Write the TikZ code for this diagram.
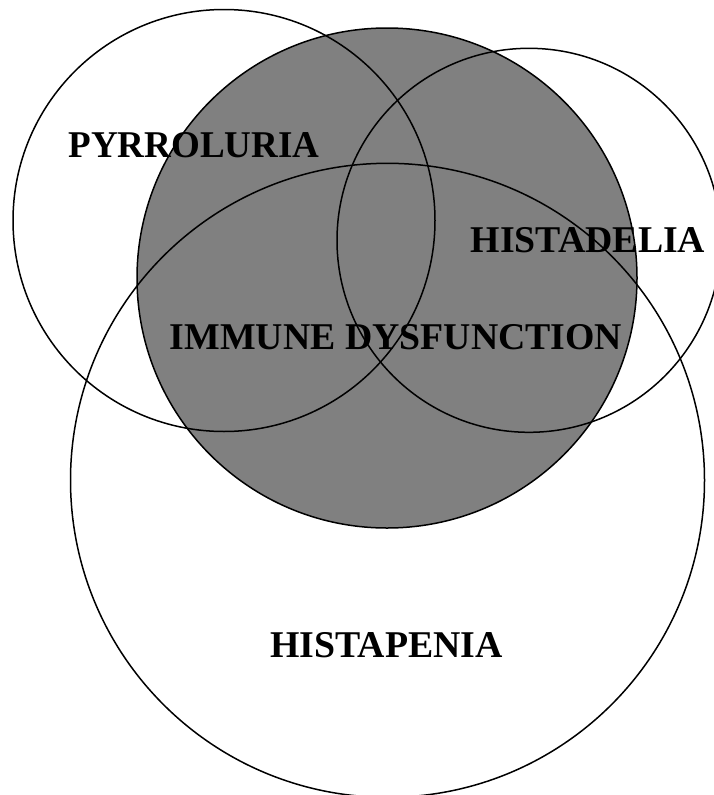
\documentclass[tikz,border=0pt]{standalone}
\usepackage{fontspec}
\setmainfont{Liberation Serif}
\begin{document}
\begin{tikzpicture}[x=1pt,y=-1pt,line width=1.5pt,
  setname/.style={font=\fontsize{37.8}{40}\selectfont\bfseries,inner sep=0pt,anchor=base}]
\useasboundingbox (0,0) rectangle (714,795);
\clip (0,0) rectangle (714,795);

% Centres of the four circles
\coordinate (P) at (224,220.5);
\coordinate (I) at (387,278);
\coordinate (D) at (529,240.3);
\coordinate (H) at (387.5,480.3);

% Shade the immune dysfunction circle and draw all outlines over it
\fill[gray] (I) circle (250);
\draw (P) circle (211);
\draw (I) circle (250);
\draw (D) circle (192);
\draw (H) circle (317);

% Label the sets
\node[setname] (pyr) at (194,157) {\scalebox{0.98}[1]{PYRROLURIA}};
\node[setname] (hid) at (588,252) {HISTADELIA};
\node[setname] (imm) at (396,349) {IMMUNE DYSFUNCTION};
\node[setname] (hip) at (386.5,657) {HISTAPENIA};
\end{tikzpicture}
\end{document}
